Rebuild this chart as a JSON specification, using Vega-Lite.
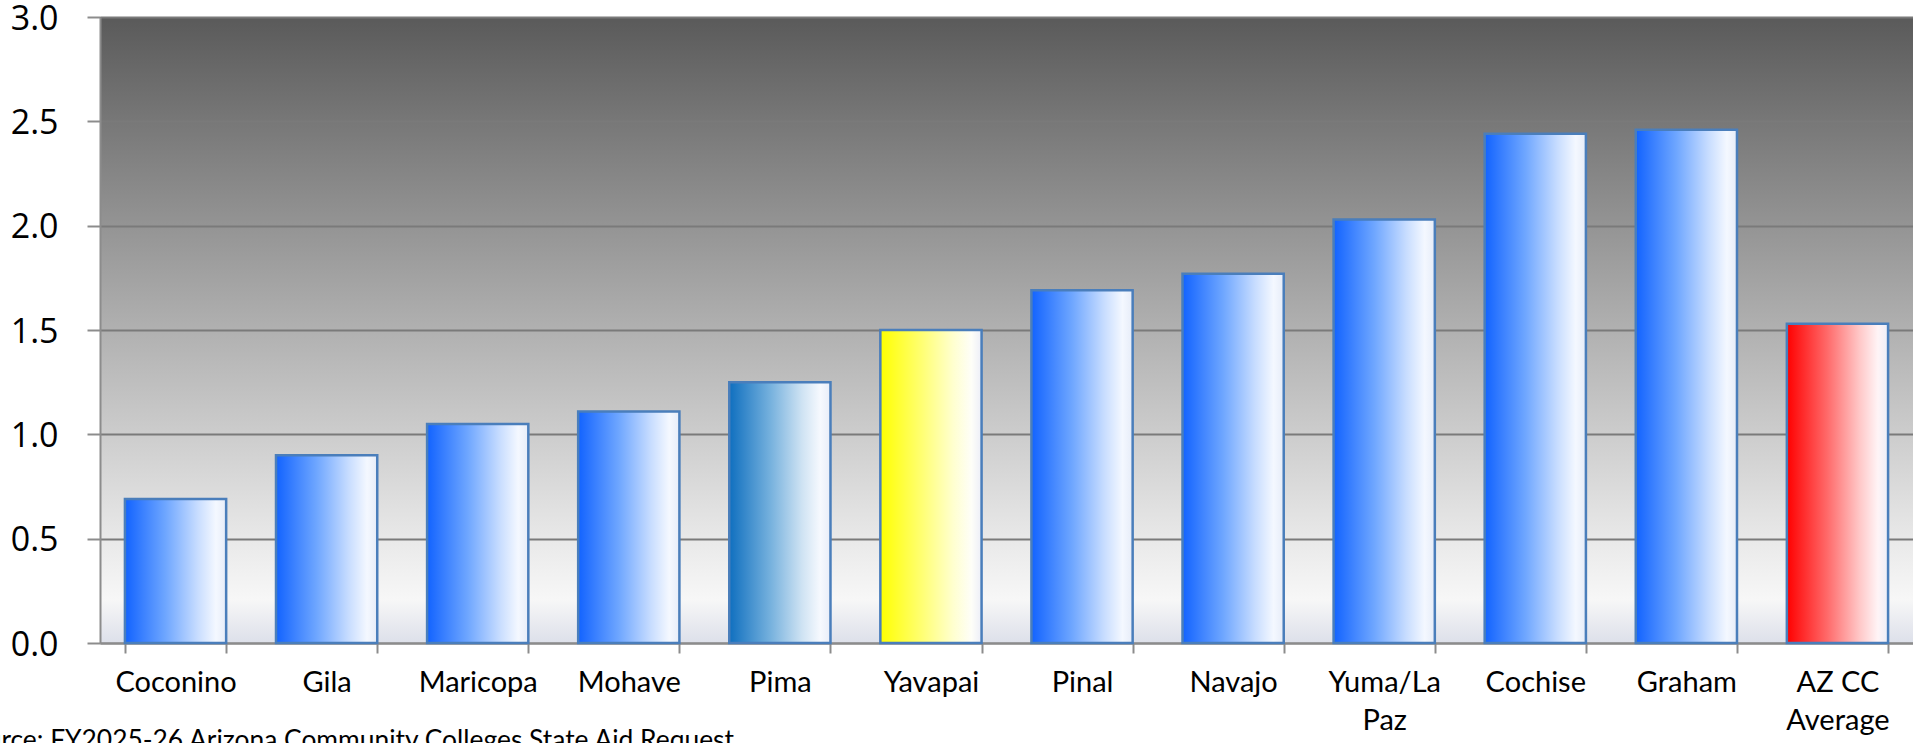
{
  "$schema": "https://vega.github.io/schema/vega-lite/v6.json",
  "autosize": "none",
  "width": 1813,
  "height": 626,
  "padding": {"left": 100, "top": 17, "right": 0, "bottom": 100},
  "background": "white",
  "title": {
    "text": "(in mils)",
    "frame": "group",
    "anchor": "middle",
    "dx": -130,
    "offset": 8,
    "baseline": "alphabetic",
    "font": "Lato",
    "fontWeight": "bold",
    "fontSize": 26,
    "color": "black"
  },
  "config": {
    "view": {
      "stroke": null,
      "fill": {
        "gradient": "linear",
        "x1": 0, "y1": 0, "x2": 0, "y2": 1,
        "stops": [
          {"offset": 0, "color": "#5a5a5a"},
          {"offset": 0.17, "color": "#787878"},
          {"offset": 0.45, "color": "#a8a8a8"},
          {"offset": 0.67, "color": "#cdcdcd"},
          {"offset": 0.83, "color": "#e8e8e8"},
          {"offset": 0.93, "color": "#f7f7f7"},
          {"offset": 1, "color": "#dde0ea"}
        ]
      }
    }
  },
  "data": {
    "values": [
      {"college": "Coconino", "mils": 0.69, "tone": "blue"},
      {"college": "Gila", "mils": 0.9, "tone": "blue"},
      {"college": "Maricopa", "mils": 1.05, "tone": "blue"},
      {"college": "Mohave", "mils": 1.11, "tone": "blue"},
      {"college": "Pima", "mils": 1.25, "tone": "teal"},
      {"college": "Yavapai", "mils": 1.5, "tone": "yellow"},
      {"college": "Pinal", "mils": 1.69, "tone": "blue"},
      {"college": "Navajo", "mils": 1.77, "tone": "blue"},
      {"college": "Yuma/La Paz", "mils": 2.03, "tone": "blue"},
      {"college": "Cochise", "mils": 2.44, "tone": "blue"},
      {"college": "Graham", "mils": 2.46, "tone": "blue"},
      {"college": "AZ CC Average", "mils": 1.53, "tone": "red"}
    ]
  },
  "encoding": {
    "x": {
      "field": "college",
      "type": "nominal",
      "sort": ["Coconino", "Gila", "Maricopa", "Mohave", "Pima", "Yavapai", "Pinal", "Navajo", "Yuma/La Paz", "Cochise", "Graham", "AZ CC Average"],
      "scale": {"paddingInner": 0.33, "paddingOuter": 0.165},
      "axis": {
        "title": "Source: FY2025-26 Arizona Community Colleges State Aid Request",
        "titleAnchor": "start",
        "titleAlign": "left",
        "titleX": -143,
        "titleY": 105,
        "titleBaseline": "alphabetic",
        "titleFont": "Lato",
        "titleFontWeight": "normal",
        "titleFontSize": 26.4,
        "titleColor": "black",
        "labelAngle": 0,
        "labelFont": "Lato",
        "labelFontSize": 29,
        "labelColor": "black",
        "labelBaseline": "top",
        "labelPadding": 15,
        "labelLineHeight": 38,
        "labelExpr": "datum.label == 'Yuma/La Paz' ? ['Yuma/La', 'Paz'] : datum.label == 'AZ CC Average' ? ['AZ CC', 'Average'] : datum.label",
        "tickBand": "extent",
        "tickSize": 10,
        "tickWidth": 2,
        "tickColor": "#8c8c8c",
        "domainColor": "#8c8c8c",
        "domainWidth": 2,
        "grid": false
      }
    },
    "y": {
      "field": "mils",
      "type": "quantitative",
      "scale": {"domain": [0, 3], "nice": false},
      "axis": {
        "title": null,
        "values": [0, 0.5, 1, 1.5, 2, 2.5, 3],
        "format": ".1f",
        "labelFont": "Open Sans",
        "labelFontSize": 34,
        "labelColor": "black",
        "labelPadding": 29,
        "labelOffset": 2,
        "tickSize": 13,
        "tickWidth": 2,
        "tickColor": "#8c8c8c",
        "domainColor": "#8c8c8c",
        "domainWidth": 2,
        "grid": true,
        "gridColor": "#7a7a7a",
        "gridWidth": 2
      }
    }
  },
  "layer": [
    {
      "transform": [{"filter": "datum.tone == 'blue'"}],
      "mark": {
        "type": "bar",
        "stroke": "#4a7ebb",
        "strokeWidth": 2.5,
        "color": {
          "gradient": "linear",
          "x1": 0, "y1": 0, "x2": 1, "y2": 0,
          "stops": [
            {"offset": 0, "color": "#1263ff"},
            {"offset": 0.4, "color": "#6ea6ff"},
            {"offset": 0.72, "color": "#c8ddff"},
            {"offset": 0.9, "color": "#f4f8ff"},
            {"offset": 1, "color": "#e6ecf8"}
          ]
        }
      }
    },
    {
      "transform": [{"filter": "datum.tone == 'teal'"}],
      "mark": {
        "type": "bar",
        "stroke": "#4a7ebb",
        "strokeWidth": 2.5,
        "color": {
          "gradient": "linear",
          "x1": 0, "y1": 0, "x2": 1, "y2": 0,
          "stops": [
            {"offset": 0, "color": "#0f6fbf"},
            {"offset": 0.4, "color": "#74b0dd"},
            {"offset": 0.72, "color": "#cfe3f3"},
            {"offset": 0.9, "color": "#f6f9fe"},
            {"offset": 1, "color": "#e8edf8"}
          ]
        }
      }
    },
    {
      "transform": [{"filter": "datum.tone == 'yellow'"}],
      "mark": {
        "type": "bar",
        "stroke": "#4a7ebb",
        "strokeWidth": 2.5,
        "color": {
          "gradient": "linear",
          "x1": 0, "y1": 0, "x2": 1, "y2": 0,
          "stops": [
            {"offset": 0, "color": "#ffff00"},
            {"offset": 0.4, "color": "#ffff70"},
            {"offset": 0.72, "color": "#ffffcf"},
            {"offset": 0.9, "color": "#fefef8"},
            {"offset": 1, "color": "#eceef8"}
          ]
        }
      }
    },
    {
      "transform": [{"filter": "datum.tone == 'red'"}],
      "mark": {
        "type": "bar",
        "stroke": "#4a7ebb",
        "strokeWidth": 2.5,
        "color": {
          "gradient": "linear",
          "x1": 0, "y1": 0, "x2": 1, "y2": 0,
          "stops": [
            {"offset": 0, "color": "#ff0000"},
            {"offset": 0.4, "color": "#ff6a6a"},
            {"offset": 0.72, "color": "#ffc8c8"},
            {"offset": 0.9, "color": "#fff4f6"},
            {"offset": 1, "color": "#eceef8"}
          ]
        }
      }
    }
  ]
}
